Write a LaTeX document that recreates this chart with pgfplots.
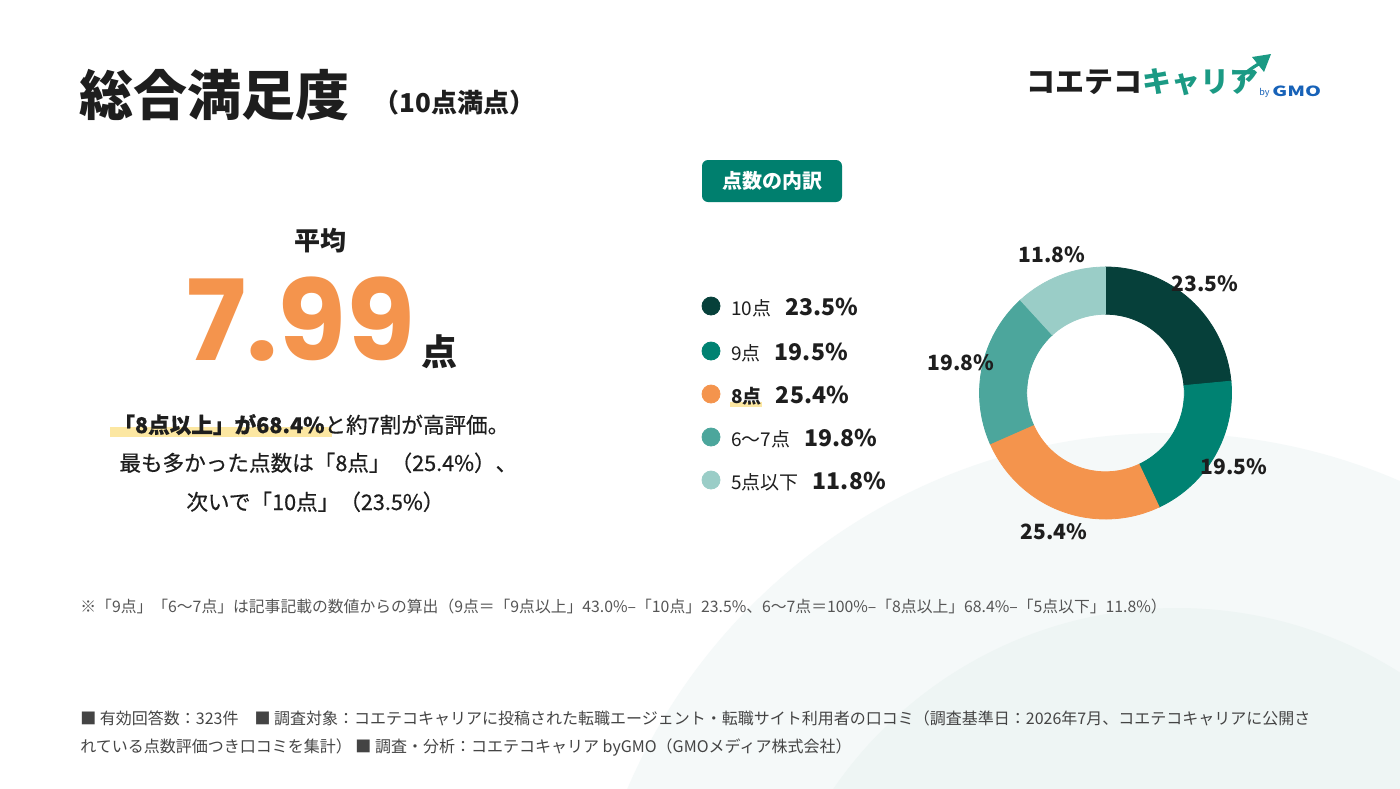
\documentclass[border=0pt]{standalone}
\usepackage{pgfplots}
\pgfplotsset{compat=1.18}
\usepackage{pgfplotstable}
\usepackage{fontspec}
\setmainfont{Noto Sans CJK JP}
\newfontfamily\jpmed{Noto Sans CJK JP}[FakeBold=0.5]
\newfontfamily\numfont{Poppins}

\definecolor{ink}{HTML}{1E1E1E}
\definecolor{sub}{HTML}{555555}
\definecolor{note}{HTML}{444444}
\definecolor{slice0}{HTML}{06403A}
\definecolor{slice1}{HTML}{008272}
\definecolor{slice2}{HTML}{F4944D}
\definecolor{slice3}{HTML}{4CA69C}
\definecolor{slice4}{HTML}{9ACDC7}
\definecolor{badge}{HTML}{007F6E}
\definecolor{hl}{HTML}{FCE7A2}
\definecolor{bgA}{HTML}{F5F9F9}
\definecolor{bgB}{HTML}{EEF5F4}
\definecolor{logoG}{HTML}{1B9A84}
\definecolor{gmo}{HTML}{1762B8}

\newcommand\fs[1]{\fontsize{#1}{#1}\selectfont}
\newcommand\legendname[1]{\ifcase#1\relax 10点\or 9点\or \textbf{8点}\or 6〜7点\or 5点以下\fi}
\newcommand\pct[1]{\pgfmathprintnumber[assume math mode=true, fixed, fixed zerofill, precision=1]{#1}\%}
\pgfdeclareplotmark{blank}{}

% score breakdown: share (%), cumulative start (%), legend row (px)
\pgfplotstableread{
idx val start ly
0 23.5 0.0 306
1 19.5 23.5 351
2 25.4 43.0 394
3 19.8 68.4 437
4 11.8 88.2 480
}\scores

\begin{document}
\begin{tikzpicture}[x=0.5pt,y=-0.5pt]
% page and background arcs
\fill[white] (0,0) rectangle (1400,788);
\begin{scope}
  \clip (0,0) rectangle (1400,788);
  \fill[bgA] (1167,1020) circle[radius=293.5pt];
  \fill[bgB] (1177,1025) circle[radius=208.5pt];
\end{scope}

% title
\node[anchor=base west, inner sep=0pt, font=\bfseries\fs{27pt}, text=ink] at (79,115) {総合満足度};
\node[anchor=base west, inner sep=0pt, font=\bfseries\fs{13pt}, text=ink] at (373,112) {（10点満点）};

% logo
\node[anchor=west, inner sep=0pt, font=\bfseries\fs{14.5pt}, text=ink] at (1026,82) {コエテコ\textcolor{logoG}{キャリア}};
\draw[logoG, line width=1.6pt] (1238,80) .. controls (1248,70) and (1255,66) .. (1262,62);
\fill[logoG] (1252,57) -- (1271,54) -- (1264,72) -- cycle;
\node[anchor=base west, inner sep=0pt, font=\fs{4.5pt}, text=gmo] at (1259,95) {by};
\node[anchor=base west, inner sep=0pt, font=\bfseries\fs{7pt}, text=gmo] at (1272,96) {\scalebox{1.45}[1]{GMO}};

% badge
\fill[badge, rounded corners=3pt] (702,160) rectangle (842,202);
\node[text=white, font=\bfseries\fs{10pt}] at (772,181) {点数の内訳};

% average score
\node[font=\bfseries\fs{13pt}, text=ink] at (320,241) {平均};
\node[anchor=base west, inner sep=0pt, font=\numfont\bfseries\fs{56pt}, text=slice2] at (186,360) {7.99};
\node[anchor=base west, inner sep=0pt, font=\bfseries\fs{18pt}, text=ink] at (421,365) {点};

% summary
\fill[hl] (110,427) rectangle (332,437);
\fill[hl] (730,402) rectangle (762,407);
\node[anchor=base west, inner sep=0pt, font=\jpmed\fs{10.8pt}, text=ink] at (113,433) {{\bfseries 「8点以上」が68.4\%}と約7割が高評価。};
\node[anchor=base west, inner sep=0pt, font=\jpmed\fs{10.8pt}, text=ink] at (119,471) {最も多かった点数は「8点」（25.4\%）、};
\node[anchor=base west, inner sep=0pt, font=\jpmed\fs{10.8pt}, text=ink] at (186,510) {次いで「10点」（23.5\%）};

% notes
\node[anchor=base west, inner sep=0pt, font=\fs{7.9pt}, text=sub] at (80,612) {※「9点」「6〜7点」は記事記載の数値からの算出（9点＝「9点以上」43.0\%–「10点」23.5\%、6〜7点＝100\%–「8点以上」68.4\%–「5点以下」11.8\%）};
\node[anchor=base west, inner sep=0pt, font=\fs{8pt}, text=note] at (80,724) {■ 有効回答数：323件\quad ■ 調査対象：コエテコキャリアに投稿された転職エージェント・転職サイト利用者の口コミ（調査基準日：2026年7月、コエテコキャリアに公開さ};
\node[anchor=base west, inner sep=0pt, font=\fs{8pt}, text=note] at (80,752) {れている点数評価つき口コミを集計）\ ■ 調査・分析：コエテコキャリア byGMO（GMOメディア株式会社）};

\begin{axis}[
  at={(0,0)}, anchor=north west,
  width=700pt, height=394pt, scale only axis,
  xmin=0, xmax=1400, ymin=0, ymax=788, y dir=reverse,
  hide axis, clip=false,
]
% donut ring
\addplot[scatter, only marks, mark=blank,
  point meta={\thisrow{idx}},
  visualization depends on={\thisrow{val} \as \sval},
  visualization depends on={\thisrow{start} \as \sstart},
  visualization depends on={\thisrow{idx} \as \sidx},
  scatter/@pre marker code/.code={%
    \pgfmathtruncatemacro\k{\sidx}%
    \pgfmathsetmacro\aA{90-3.6*\sstart}%
    \pgfmathsetmacro\aB{90-3.6*(\sstart+\sval)}%
    \pgfmathsetmacro\aM{(\aA+\aB)/2}%
    \fill[slice\k] (\aA:63pt) arc[start angle=\aA, end angle=\aB, radius=63pt]
      -- (\aB:39.4pt) arc[start angle=\aB, end angle=\aA, radius=39.4pt] -- cycle;
    \node[font=\bfseries\fs{10.5pt}, text=ink, inner sep=0pt] at (\aM:74pt) {\pct{\sval}};
  },
  scatter/@post marker code/.code={},
] table[x expr=1105.5, y expr=393] {\scores};
% legend
\addplot[scatter, only marks, mark=blank,
  point meta={\thisrow{idx}},
  visualization depends on={\thisrow{val} \as \sval},
  visualization depends on={\thisrow{idx} \as \sidx},
  scatter/@pre marker code/.code={%
    \pgfmathtruncatemacro\k{\sidx}%
    \fill[slice\k] (0pt,0pt) circle[radius=4.5pt];
    \node[anchor=base west, inner sep=0pt, text=ink, font=\fs{9.5pt}] at (10pt,-4.5pt)
      {\legendname{\k}\hspace{7pt}{\bfseries\fs{11.5pt}\pct{\sval}}};
  },
  scatter/@post marker code/.code={},
] table[x expr=711, y=ly] {\scores};
\end{axis}
\end{tikzpicture}
\end{document}
